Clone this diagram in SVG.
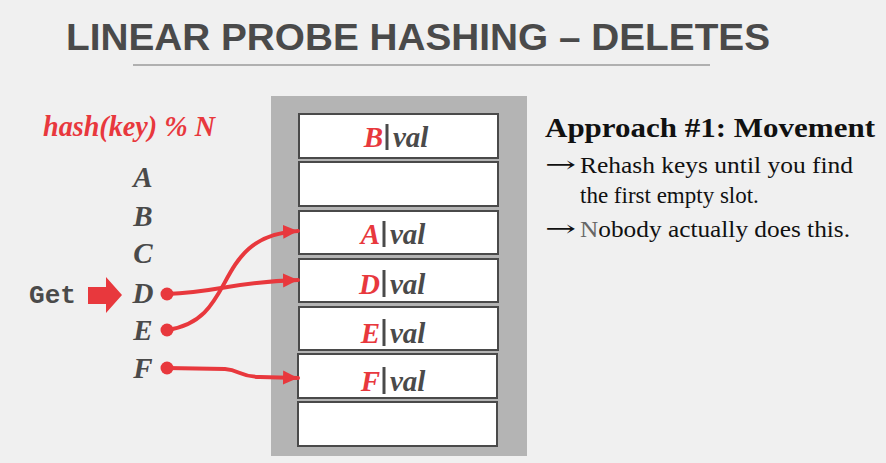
<svg xmlns="http://www.w3.org/2000/svg" width="886" height="463" viewBox="0 0 886 463">
<defs>
<style>
.bg{fill:#f0f0f0}
.title{font-family:"Liberation Sans",Arial,sans-serif;font-weight:bold;font-size:37px;fill:#4a4a4a}
.key{font-family:"Liberation Serif","Times New Roman",serif;font-weight:bold;font-style:italic;font-size:29px;fill:#4a4a4a}
.red{fill:#e8383d}
.slot{fill:#ffffff;stroke:#4a4a4a;stroke-width:2}
.bar{stroke:#4a4a4a;stroke-width:3}
.conn{fill:none;stroke:#e8383d;stroke-width:4;stroke-linecap:round}
.body{font-family:"Liberation Serif","Times New Roman",serif;font-size:23px;fill:#111}
.arrow{font-family:"DejaVu Serif","Liberation Serif",serif;font-size:22px;fill:#111}
</style>
<marker id="ah" markerUnits="userSpaceOnUse" markerWidth="16" markerHeight="16" viewBox="0 0 16 16" refX="15" refY="8" orient="auto">
<path d="M0,1 L15,8 L0,15 Z" fill="#e8383d"/>
</marker>
</defs>
<rect class="bg" x="0" y="0" width="886" height="463"/>
<g id="title">
<text class="title" x="66" y="50" textLength="704" lengthAdjust="spacingAndGlyphs">LINEAR PROBE HASHING – DELETES</text>
<line x1="133" y1="65" x2="710" y2="65" stroke="#b0b0b0" stroke-width="2"/>
</g>
<g id="hash-label">
<text class="key red" x="43" y="136" font-size="26" textLength="172" lengthAdjust="spacingAndGlyphs">hash(key) % N</text>
</g>
<g id="keys">
<text class="key" x="143" y="187" text-anchor="middle">A</text>
<text class="key" x="143" y="226" text-anchor="middle">B</text>
<text class="key" x="143" y="263" text-anchor="middle">C</text>
<text class="key" x="143" y="303" text-anchor="middle">D</text>
<text class="key" x="143" y="340" text-anchor="middle">E</text>
<text class="key" x="143" y="378" text-anchor="middle">F</text>
</g>
<g id="get">
<text x="29" y="303" font-family="'Liberation Mono','Courier New',monospace" font-weight="bold" font-size="26" fill="#4a4a4a" textLength="47" lengthAdjust="spacingAndGlyphs">Get</text>
<polygon class="red" points="88,287 106,287 106,277 122,295 106,313 106,304 88,304"/>
</g>
<g id="table">
<rect x="271" y="96" width="256" height="360" fill="#b4b4b4"/>
<g id="slot1"><rect class="slot" x="299" y="114" width="199" height="44"/>
<text class="key" x="383" y="147" text-anchor="end"><tspan class="red">B</tspan></text><line class="bar" x1="387" y1="124" x2="387" y2="150"/><text class="key" x="393" y="147">val</text></g>
<g id="slot2"><rect class="slot" x="299" y="162" width="199" height="44"/></g>
<g id="slot3"><rect class="slot" x="299" y="211" width="199" height="43"/>
<text class="key" x="380" y="244" text-anchor="end"><tspan class="red">A</tspan></text><line class="bar" x1="384" y1="221" x2="384" y2="247"/><text class="key" x="390" y="244">val</text></g>
<g id="slot4"><rect class="slot" x="299" y="259" width="199" height="43"/>
<text class="key" x="380" y="294" text-anchor="end"><tspan class="red">D</tspan></text><line class="bar" x1="384" y1="270" x2="384" y2="297"/><text class="key" x="390" y="294">val</text></g>
<g id="slot5"><rect class="slot" x="299" y="307" width="199" height="43"/>
<text class="key" x="380" y="343" text-anchor="end"><tspan class="red">E</tspan></text><line class="bar" x1="384" y1="319" x2="384" y2="346"/><text class="key" x="390" y="343">val</text></g>
<g id="slot6"><rect class="slot" x="298" y="354" width="199" height="44"/>
<text class="key" x="380" y="391" text-anchor="end"><tspan class="red">F</tspan></text><line class="bar" x1="384" y1="367" x2="384" y2="394"/><text class="key" x="390" y="391">val</text></g>
<g id="slot7"><rect class="slot" x="298" y="402" width="199" height="44"/></g>
</g>
<g id="connectors">
<circle class="red" cx="167" cy="294" r="6.5"/>
<circle class="red" cx="167" cy="330" r="6.5"/>
<circle class="red" cx="167" cy="368" r="6.5"/>
<path class="conn" d="M167,294 C220,292 230,282 298,280" marker-end="url(#ah)"/>
<path class="conn" d="M167,330 C240,320 210,236 298,231" marker-end="url(#ah)"/>
<path class="conn" d="M167,368 L225,369 C240,370 240,377 260,377 L298,378" marker-end="url(#ah)"/>
</g>
<g id="notes">
<text x="545" y="137" font-family="'Liberation Serif','Times New Roman',serif" font-weight="bold" font-size="28" fill="#111" textLength="330" lengthAdjust="spacingAndGlyphs">Approach #1: Movement</text>
<text class="arrow" x="545" y="172" textLength="31" lengthAdjust="spacingAndGlyphs">→</text>
<text class="body" x="580" y="173" textLength="273" lengthAdjust="spacingAndGlyphs">Rehash keys until you find</text>
<text class="body" x="580" y="203">the first empty slot.</text>
<text class="arrow" x="545" y="236" textLength="31" lengthAdjust="spacingAndGlyphs">→</text>
<text class="body" x="580" y="237" textLength="270" lengthAdjust="spacingAndGlyphs"><tspan fill="#666">N</tspan>obody actually does this.</text>
</g>
</svg>
